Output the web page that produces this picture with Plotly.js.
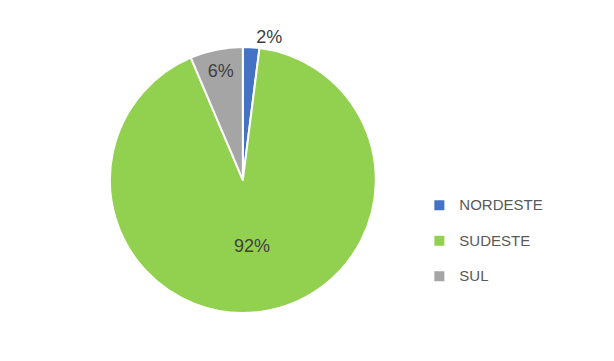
<!DOCTYPE html>
<html>
<head>
<meta charset="utf-8">
<script src="https://cdn.plot.ly/plotly-3.0.1.min.js"></script>
<style>html,body{margin:0;padding:0;background:#fff;}#chart{width:614px;height:361px;}</style>
</head>
<body>
<div id="chart"></div>
<script>
var regions = ["NORDESTE", "SUDESTE", "SUL"];
var shares = [2.0, 91.6, 6.4];
var sliceColors = ["#4472C4", "#92D050", "#A5A5A5"];

var trace = {
  type: "pie",
  labels: regions.map(function (r) { return "<span style='font-size:15px'>" + r + "</span><br> "; }),
  values: shares,
  sort: false,
  direction: "clockwise",
  rotation: 0,
  marker: {colors: sliceColors, line: {color: "#FFFFFF", width: 2}},
  texttemplate: "%{percent:.0%}",
  textposition: ["outside", "inside", "inside"],
  insidetextorientation: "horizontal",
  textfont: {family: "Liberation Sans, Arial, sans-serif", size: 18, color: "#404040"},
  outsidetextfont: {family: "Liberation Sans, Arial, sans-serif", size: 18, color: "#404040"},
  domain: {x: [0.179, 0.612], y: [0.133, 0.870]},
  hoverinfo: "percent"
};

var layout = {
  width: 614, height: 361,
  margin: {l: 0, r: 0, t: 0, b: 0},
  paper_bgcolor: "#FFFFFF",
  showlegend: true,
  legend: {
    x: 0.683, y: 0.31, xanchor: "left", yanchor: "middle",
    valign: "top",
    font: {family: "Liberation Sans, Arial, sans-serif", size: 12.5, color: "#595959"},
    itemwidth: 30
  }
};

Plotly.newPlot("chart", [trace], layout, {displayModeBar: false, staticPlot: true});
</script>
</body>
</html>
